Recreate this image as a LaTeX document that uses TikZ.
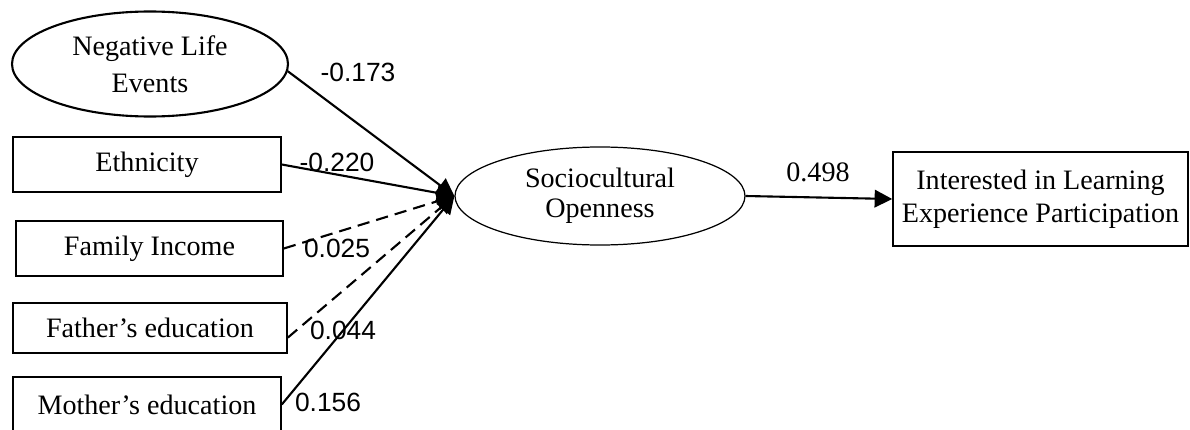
\documentclass[tikz,border=0pt]{standalone}
\usepackage{fontspec}
\setmainfont{Liberation Serif}
\setsansfont{Liberation Sans}
\usetikzlibrary{shapes.geometric,arrows.meta}

\begin{document}
\begin{tikzpicture}[line cap=butt,line join=miter,
    varbox/.style={draw,line width=0.9pt,inner sep=0pt,align=center,
      font=\fontsize{16}{18.5}\selectfont},
    latent/.style={draw,ellipse,inner sep=0pt,align=center,
      font=\fontsize{16}{18.5}\selectfont},
    coef/.style={inner sep=0pt,font=\sffamily\fontsize{15}{16}\selectfont},
    link/.style={line width=1.2pt,-{Triangle[length=10pt,width=10pt]}}]
  \useasboundingbox (0,0) rectangle (23.8,-8.6);
  \node[latent,line width=1.2pt,minimum width=5.52cm,minimum height=2.10cm,
    font=\fontsize{16}{21}\selectfont] (nle) at (3.00,-1.28) {Negative Life\\Events};
  \node[varbox,minimum width=5.36cm,minimum height=1.10cm] (eth) at (2.94,-3.29) {Ethnicity};
  \node[varbox,minimum width=5.34cm,minimum height=1.10cm] (fam) at (2.99,-4.97) {Family Income};
  \node[varbox,minimum width=5.48cm,minimum height=1.00cm] (fat) at (3.00,-6.56) {Father’s education};
  \node[varbox,minimum width=5.36cm,minimum height=1.10cm] (mot) at (2.94,-8.09) {Mother’s education};
  \node[latent,line width=0.7pt,minimum width=5.80cm,minimum height=1.96cm,
    font=\fontsize{16}{17}\selectfont] (soc) at (12.00,-3.92) {Sociocultural\\Openness};
  \node[varbox,minimum width=5.90cm,minimum height=1.88cm] (int) at (20.81,-3.98)
    {Interested in Learning\\Experience Participation};
  % paths into sociocultural openness
  \draw[link] (nle.-3) -- (soc.west);
  \draw[link] (eth.east) -- (soc.west);
  \draw[link,dash pattern=on 7pt off 4pt] (fam.east) -- (soc.west);
  \draw[link,dash pattern=on 7pt off 4pt] (fat.-4) -- (soc.west);
  \draw[link] (mot.east) -- (soc.west);
  \draw[link] (soc.east) -- (int.west);
  \node[coef] (c1) at (7.16,-1.44) {-0.173};
  \node[coef] (c2) at (6.74,-3.24) {-0.220};
  \node[coef] (c3) at (6.74,-4.96) {0.025};
  \node[coef] (c4) at (6.86,-6.60) {0.044};
  \node[coef] (c5) at (6.56,-8.04) {0.156};
  \node[inner sep=0pt,font=\rmfamily\fontsize{16}{17}\selectfont] (c6) at (16.36,-3.44) {0.498};
\end{tikzpicture}
\end{document}
